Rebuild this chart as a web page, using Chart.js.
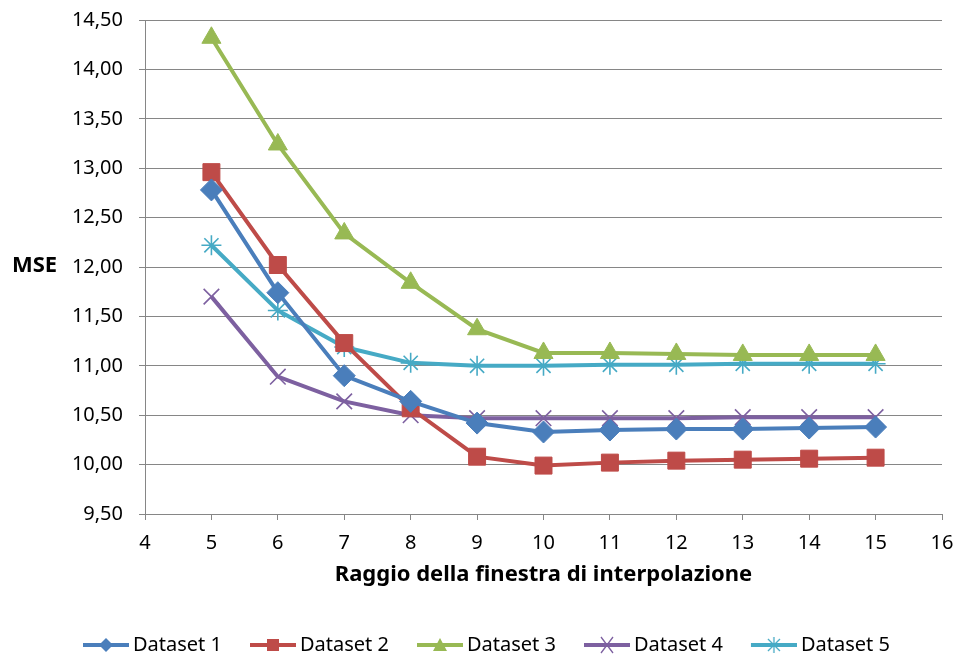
<!DOCTYPE html>
<html>
<head>
<meta charset="utf-8">
<script src="https://cdn.jsdelivr.net/npm/chart.js@4.4.0/dist/chart.umd.min.js"></script>
<style>
  html, body { margin: 0; padding: 0; background: #fff; }
  #wrap { width: 958px; height: 657px; position: relative; }
</style>
</head>
<body>
<div id="wrap"><canvas id="graficoMSE"></canvas></div>
<script>
// raggio della finestra (asse x)
const raggi = [5, 6, 7, 8, 9, 10, 11, 12, 13, 14, 15];

// MSE
const dataset1 = [12.78, 11.74, 10.90, 10.64, 10.42, 10.33, 10.35, 10.36, 10.36, 10.37, 10.38];
const dataset2 = [12.96, 12.02, 11.23, 10.57, 10.08, 9.99, 10.02, 10.04, 10.05, 10.06, 10.07];
const dataset3 = [14.32, 13.24, 12.34, 11.84, 11.37, 11.13, 11.13, 11.12, 11.11, 11.11, 11.11];
const dataset4 = [11.70, 10.89, 10.64, 10.50, 10.47, 10.47, 10.47, 10.47, 10.48, 10.48, 10.48];
const dataset5 = [12.22, 11.56, 11.19, 11.03, 11.00, 11.00, 11.01, 11.01, 11.02, 11.02, 11.02];

const nomi = ["Dataset 1", "Dataset 2", "Dataset 3", "Dataset 4", "Dataset 5"];
const serie = [dataset1, dataset2, dataset3, dataset4, dataset5];
const colori = ["#4a7ebb", "#be4b48", "#98b954", "#7d60a0", "#46aac5"];
const simboli = ["rectRot", "rect", "triangle", "crossRot", "star"];

const xMin = 4, xMax = 16;
const yMin = 9.5, yMax = 14.5, yPasso = 0.5;

Chart.defaults.font.family = "'Noto Sans', sans-serif";
Chart.defaults.color = "#000";

// icona linea + simbolo per la legenda (spostata a destra, vicino al testo)
function iconaLegenda(colore, simbolo) {
  const c = document.createElement("canvas");
  c.width = 58; c.height = 18;
  const g = c.getContext("2d");
  const cx = 35, cy = 9;
  g.strokeStyle = colore; g.fillStyle = colore;
  g.lineWidth = 4;
  g.beginPath(); g.moveTo(12, cy); g.lineTo(58, cy); g.stroke();
  g.lineWidth = 1.3;
  g.beginPath();
  if (simbolo === "rectRot") {
    g.moveTo(cx, cy - 7); g.lineTo(cx + 7, cy); g.lineTo(cx, cy + 7); g.lineTo(cx - 7, cy);
    g.closePath(); g.fill();
  } else if (simbolo === "rect") {
    g.fillRect(cx - 6, cy - 6, 12, 12);
  } else if (simbolo === "triangle") {
    g.moveTo(cx, cy - 7); g.lineTo(cx + 7, cy + 6); g.lineTo(cx - 7, cy + 6);
    g.closePath(); g.fill();
  } else if (simbolo === "crossRot") {
    g.moveTo(cx - 6, cy - 8); g.lineTo(cx + 6, cy + 8);
    g.moveTo(cx + 6, cy - 8); g.lineTo(cx - 6, cy + 8); g.stroke();
  } else {
    g.moveTo(cx, cy - 8); g.lineTo(cx, cy + 8);
    g.moveTo(cx - 6, cy - 6); g.lineTo(cx + 6, cy + 6);
    g.moveTo(cx + 6, cy - 6); g.lineTo(cx - 6, cy + 6); g.stroke();
  }
  return c;
}

// etichetta "MSE" orizzontale a sinistra
const titoloY = {
  id: "titoloY",
  afterDraw(chart) {
    const ctx = chart.ctx;
    const y = chart.scales.y.getPixelForValue(12);
    ctx.save();
    ctx.font = "bold 22px 'Noto Sans', sans-serif";
    ctx.fillStyle = "#000";
    ctx.textAlign = "left";
    ctx.textBaseline = "middle";
    ctx.fillText("MSE", 12, y - 1);
    ctx.restore();
  }
};

const ctx = document.getElementById("graficoMSE").getContext("2d");

new Chart(ctx, {
  type: "line",
  data: {
    datasets: serie.map((valori, i) => ({
      label: nomi[i],
      data: raggi.map((r, j) => ({ x: r, y: valori[j] })),
      borderColor: colori[i],
      backgroundColor: colori[i],
      borderWidth: 4,
      tension: 0,
      pointStyle: simboli[i],
      pointRadius: [11, 12, 11, 11, 10][i],
      pointBorderWidth: [1, 1, 1, 1.6, 1.6][i],
      pointHoverRadius: 11
    }))
  },
  options: {
    responsive: true,
    maintainAspectRatio: false,
    animation: false,
    layout: { padding: { left: 55, right: 16, top: 20, bottom: -8 } },
    scales: {
      x: {
        type: "linear",
        min: xMin, max: xMax,
        ticks: { stepSize: 1, padding: 11, font: { size: 20 } },
        grid: { drawOnChartArea: false, drawTicks: true, tickLength: 6, color: "#868686" },
        border: { color: "#868686" },
        title: {
          display: true,
          text: "Raggio della finestra di interpolazione",
          font: { size: 22, weight: "bold" },
          padding: { top: 0, bottom: 25 }
        },
        afterFit: (s) => { s.height = 99; s.paddingLeft = 0; s.paddingRight = 0; }
      },
      y: {
        min: yMin, max: yMax,
        ticks: {
          stepSize: yPasso, padding: 16, font: { size: 20 },
          callback: (v) => v.toFixed(2).replace(".", ",")
        },
        grid: { color: "#868686", tickLength: 6 },
        border: { color: "#868686" },
        afterFit: (s) => { s.width = 90; s.paddingTop = 0; s.paddingBottom = 0; }
      }
    },
    plugins: {
      legend: {
        position: "bottom",
        align: "start",
        labels: {
          usePointStyle: true,
          pointStyleWidth: 46,
          padding: 22,
          font: { size: 20 },
          generateLabels: (chart) => chart.data.datasets.map((d, i) => ({
            text: d.label,
            pointStyle: iconaLegenda(colori[i], simboli[i]),
            fillStyle: colori[i],
            strokeStyle: colori[i],
            lineWidth: 0,
            datasetIndex: i
          }))
        }
      },
      tooltip: { enabled: false }
    }
  },
  plugins: [titoloY]
});
</script>
</body>
</html>
